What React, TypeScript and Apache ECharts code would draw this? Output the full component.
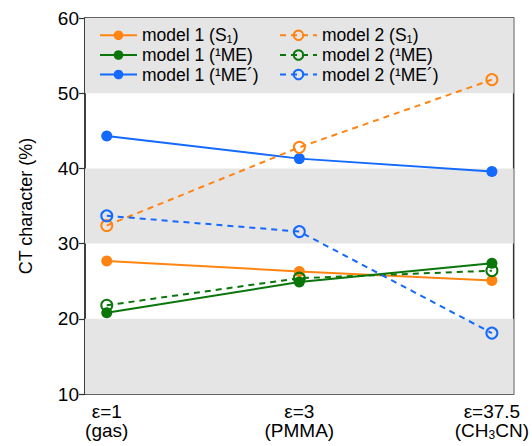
import React, { useEffect, useRef } from "react";
import * as echarts from "echarts";

const categories = ["ε=1\n(gas)", "ε=3\n(PMMA)", "ε=37.5\n(CH{sub|3}CN)"];
const xPositions = [0, 1, 2];
const bands = [[10, 20], [30, 40], [50, 60]];

const model1S1 = [27.7, 26.3, 25.1];
const model1ME = [20.8, 24.9, 27.4];
const model1MEp = [44.3, 41.3, 39.6];
const model2S1 = [32.4, 42.8, 51.8];
const model2ME = [21.8, 25.4, 26.4];
const model2MEp = [33.7, 31.6, 18.1];

const ORANGE = "#ff8412";
const GREEN = "#0a760a";
const BLUE = "#1469ff";

const FONT = "'Liberation Sans', Arial, Helvetica, sans-serif";

export default function App() {
  const ref = useRef<HTMLDivElement>(null);
  useEffect(() => {
    const chart = echarts.init(ref.current!, null, { renderer: "svg" });
    const mk = (name: string, data: number[], color: string, dashed: boolean) => ({
      name,
      type: "line",
      data: data.map((v, i) => [xPositions[i], v]),
      symbol: "circle",
      symbolSize: 11,
      lineStyle: { color, width: 2, type: dashed ? [6, 5] : "solid" },
      itemStyle: dashed
        ? { color: "rgba(255,255,255,0)", borderColor: color, borderWidth: 2 }
        : { color, borderWidth: 0 },
      z: 3,
    });
    const richText = {
      sub: { fontSize: 11, fontFamily: FONT, color: "#000", padding: [8, 0, 0, 0] },
    };
    const legendCommon = {
      orient: "vertical",
      top: 21,
      itemWidth: 37,
      itemHeight: 12,
      itemGap: 1,
      textStyle: { fontSize: 17.5, fontFamily: FONT, color: "#000", lineHeight: 18.5, rich: richText },
      formatter: (n: string) => n.replace("(S1)", "(S{sub|1})"),
    };
    chart.setOption({
      animation: false,
      grid: {
        left: 85,
        right: 14,
        top: 18,
        bottom: 52,
        show: true,
        borderColor: "#333",
        borderWidth: 1.5,
        backgroundColor: "transparent",
      },
      legend: [
        {
          ...legendCommon,
          left: 94,
          data: ["model 1 (S1)", "model 1 (¹ME)", "model 1 (¹ME´)"],
        },
        {
          ...legendCommon,
          left: 274,
          data: ["model 2 (S1)", "model 2 (¹ME)", "model 2 (¹ME´)"],
        },
      ],
      xAxis: {
        type: "value",
        min: -0.113,
        max: 2.113,
        axisLine: { show: false },
        axisTick: { show: false },
        splitLine: { show: false },
        axisLabel: {
          customValues: xPositions,
          formatter: (v: number) => categories[Math.round(v)],
          fontSize: 19,
          fontFamily: FONT,
          color: "#000",
          lineHeight: 19,
          margin: 8,
          rich: {
            sub: { fontSize: 12, fontFamily: FONT, color: "#000", padding: [9, 0, 0, 0] },
          },
        },
      },
      yAxis: {
        type: "value",
        min: 10,
        max: 60,
        interval: 10,
        name: "CT character (%)",
        nameLocation: "middle",
        nameGap: 50,
        nameTextStyle: { fontSize: 18, fontFamily: FONT, color: "#000" },
        axisLine: { show: true, onZero: false, lineStyle: { color: "#333", width: 1.5 } },
        axisTick: { show: true, inside: false, length: 6, lineStyle: { color: "#333", width: 1.2 } },
        splitLine: { show: false },
        splitArea: { show: false },
        axisLabel: {
          fontSize: 19,
          fontFamily: FONT,
          color: "#000",
          margin: 6,
        },
      },
      series: [
        {
          type: "line",
          name: "__bands",
          data: [],
          silent: true,
          markArea: {
            silent: true,
            itemStyle: { color: "#e5e5e5" },
            data: bands.map((b) => [{ yAxis: b[0] }, { yAxis: b[1] }]),
          },
          z: 1,
        },
        mk("model 1 (S1)", model1S1, ORANGE, false),
        mk("model 1 (¹ME)", model1ME, GREEN, false),
        mk("model 1 (¹ME´)", model1MEp, BLUE, false),
        mk("model 2 (S1)", model2S1, ORANGE, true),
        mk("model 2 (¹ME)", model2ME, GREEN, true),
        mk("model 2 (¹ME´)", model2MEp, BLUE, true),
      ],
    });
    return () => chart.dispose();
  }, []);
  return <div ref={ref} style={{ width: 532, height: 446, position: "absolute", left: 0, top: 0 }} />;
}
